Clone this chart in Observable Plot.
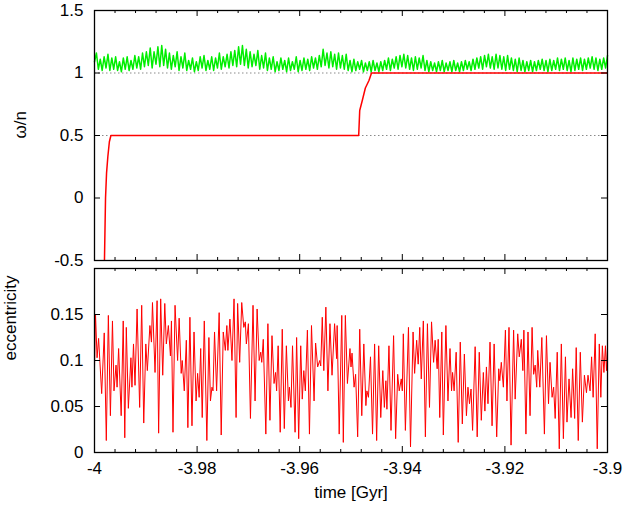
<!DOCTYPE html>
<html><head><meta charset="utf-8">
<script src="https://cdn.jsdelivr.net/npm/d3@7"></script>
<script src="https://cdn.jsdelivr.net/npm/@observablehq/plot@0.6"></script>
<style>
body{margin:0;background:#fff;}
#chart{width:623px;height:511px;}
#chart svg{display:block;}
</style></head><body><div id="chart"></div>
<script>
// ---- tick values and labels ----
const xMajorTicks = [-4, -3.98, -3.96, -3.94, -3.92, -3.9];
const xTickLabels = ["-4", "-3.98", "-3.96", "-3.94", "-3.92", "-3.9"];
const xMinorTicks = [-3.996, -3.992, -3.988, -3.984, -3.976, -3.972, -3.968, -3.964, -3.956, -3.952, -3.948, -3.944, -3.936, -3.932, -3.928, -3.924, -3.916, -3.912, -3.908, -3.904];
const omegaTicks = [-0.5, 0, 0.5, 1, 1.5];
const omegaTickLabels = ["-0.5", "0", "0.5", "1", "1.5"];
const eccTicks = [0, 0.05, 0.1, 0.15];
const eccTickLabels = ["0", "0.05", "0.1", "0.15"];
const resonanceLevels = [0.5, 1];

// ---- red spin/orbit ratio (omega/n) ----
const stepTime  = [-3.9981, -3.99785, -3.99765, -3.9974, -3.9971, -3.9968, -3.9485, -3.9483, -3.9478, -3.9472, -3.9465, -3.9460, -3.9];
const stepRatio = [-0.6, 0.0, 0.2, 0.33, 0.45, 0.5, 0.5, 0.7, 0.78, 0.88, 0.94, 1.0, 1.0];

// ---- green curve: troughs and peaks, sampled evenly over [-4, -3.9] ----
const greenTroughs = [
1.09,1.03,1.02,1.04,1.02,1.03,1.02,1.01,1.03,1.02,
1.03,1.04,1.03,1.05,1.06,1.04,1.07,1.05,1.06,1.04,
1.03,1.05,1.02,1.04,1.02,1.03,1.01,1.02,1.04,1.02,
1.03,1.02,1.04,1.03,1.05,1.04,1.06,1.05,1.07,1.06,
1.04,1.05,1.06,1.03,1.04,1.02,1.03,1.01,1.02,1.03,
1.01,1.02,1.03,1.01,1.02,1.03,1.02,1.04,1.03,1.05,
1.06,1.04,1.05,1.03,1.04,1.03,1.02,1.01,1.02,1.03,
1.01,1.02,1.01,1.02,1.01,1.02,1.03,1.02,1.04,1.03,
1.05,1.04,1.03,1.02,1.03,1.04,1.02,1.01,1.02,1.01,
1.02,1.01,1.02,1.01,1.02,1.01,1.02,1.03,1.02,1.03,
1.04,1.03,1.05,1.04,1.03,1.04,1.03,1.02,1.03,1.02,
1.01,1.02,1.01,1.02,1.01,1.02,1.03,1.02,1.01,1.02,
1.03,1.02,1.03,1.02,1.01,1.02,1.03,1.02,1.03,1.04,
1.03,1.02,1.03,1.04];
const greenPeaks = [
1.16,1.11,
1.13,1.15,1.12,1.13,1.09,1.12,1.13,1.10,
1.14,1.13,1.16,1.17,
1.20,1.17,1.21,1.22,1.19,
1.16,1.14,1.17,1.13,
1.16,1.10,1.12,1.09,1.13,1.14,1.10,1.13,1.12,
1.16,1.13,1.15,1.17,
1.18,1.21,1.22,1.19,
1.17,1.15,1.18,1.14,
1.16,1.12,1.13,1.09,1.12,1.10,1.12,1.09,1.13,1.10,
1.12,1.11,1.13,1.12,1.14,
1.19,1.16,1.17,
1.15,1.16,1.14,1.15,
1.10,1.11,1.09,1.10,1.08,1.09,1.10,1.08,1.09,1.10,
1.12,1.11,1.13,1.14,1.15,1.14,1.12,1.13,
1.12,1.14,1.10,1.09,1.08,1.09,1.10,1.08,
1.09,1.10,1.08,1.09,1.10,1.09,1.11,1.12,1.13,
1.14,1.15,1.13,1.15,1.14,1.13,1.14,1.12,
1.11,1.12,1.10,1.09,1.10,1.09,1.10,1.11,1.10,
1.11,1.10,1.12,1.11,1.12,1.10,1.12,1.11,
1.12,1.11,1.12,1.13,1.12,1.11,1.12,1.14];
const greenStart = -4, greenEnd = -3.9;

// ---- eccentricity: [time (Gyr), e] ----
const eccSamples = [
[-4.0000,0.092],[-3.9998,0.150],[-3.9995,0.103],[-3.9992,0.124],[-3.9986,0.064],[-3.9981,0.130],[-3.9977,0.013],[-3.9973,0.149],
[-3.9969,0.040],[-3.9965,0.143],[-3.9962,0.067],[-3.9958,0.095],[-3.9956,0.071],[-3.9953,0.113],[-3.9948,0.040],[-3.9944,0.143],
[-3.9941,0.016],[-3.9938,0.136],[-3.9934,0.048],[-3.9929,0.103],[-3.9927,0.071],[-3.9924,0.118],[-3.9921,0.073],[-3.9917,0.156],
[-3.9912,0.049],[-3.9908,0.160],[-3.9904,0.032],[-3.9900,0.118],[-3.9897,0.089],[-3.9892,0.138],[-3.9889,0.120],[-3.9887,0.163],
[-3.9882,0.087],[-3.9878,0.165],[-3.9875,0.021],[-3.9871,0.167],[-3.9867,0.084],[-3.9863,0.162],[-3.9860,0.118],[-3.9856,0.138],
[-3.9852,0.105],[-3.9850,0.143],[-3.9847,0.022],[-3.9843,0.160],[-3.9838,0.100],[-3.9835,0.146],[-3.9831,0.086],[-3.9829,0.100],
[-3.9825,0.067],[-3.9821,0.122],[-3.9818,0.027],[-3.9814,0.147],[-3.9810,0.029],[-3.9806,0.131],[-3.9802,0.056],[-3.9799,0.086],
[-3.9796,0.060],[-3.9793,0.113],[-3.9790,0.038],[-3.9786,0.143],[-3.9781,0.013],[-3.9777,0.125],[-3.9774,0.056],[-3.9771,0.071],
[-3.9769,0.067],[-3.9766,0.131],[-3.9762,0.067],[-3.9757,0.152],[-3.9753,0.019],[-3.9749,0.131],[-3.9745,0.111],[-3.9742,0.138],
[-3.9740,0.111],[-3.9736,0.145],[-3.9732,0.100],[-3.9728,0.167],[-3.9724,0.038],[-3.9721,0.162],[-3.9717,0.098],[-3.9713,0.163],
[-3.9709,0.136],[-3.9706,0.142],[-3.9704,0.118],[-3.9700,0.140],[-3.9696,0.037],[-3.9691,0.160],[-3.9687,0.056],[-3.9683,0.156],
[-3.9679,0.100],[-3.9676,0.109],[-3.9674,0.098],[-3.9671,0.123],[-3.9666,0.020],[-3.9662,0.140],[-3.9658,0.035],[-3.9654,0.127],
[-3.9650,0.075],[-3.9647,0.087],[-3.9645,0.067],[-3.9642,0.116],[-3.9638,0.022],[-3.9634,0.134],[-3.9630,0.026],[-3.9626,0.116],
[-3.9622,0.056],[-3.9620,0.071],[-3.9617,0.049],[-3.9614,0.116],[-3.9609,0.022],[-3.9606,0.125],[-3.9602,0.015],[-3.9598,0.116],
[-3.9595,0.058],[-3.9592,0.089],[-3.9589,0.067],[-3.9585,0.133],[-3.9581,0.020],[-3.9577,0.138],[-3.9572,0.056],[-3.9569,0.119],
[-3.9565,0.093],[-3.9561,0.100],[-3.9559,0.094],[-3.9556,0.147],[-3.9553,0.089],[-3.9549,0.158],[-3.9545,0.067],[-3.9541,0.140],
[-3.9537,0.084],[-3.9532,0.140],[-3.9528,0.102],[-3.9527,0.138],[-3.9523,0.020],[-3.9518,0.149],[-3.9515,0.011],[-3.9511,0.149],
[-3.9507,0.075],[-3.9502,0.113],[-3.9500,0.093],[-3.9498,0.108],[-3.9494,0.071],[-3.9491,0.085],[-3.9487,0.017],[-3.9483,0.134],
[-3.9479,0.040],[-3.9475,0.118],[-3.9471,0.051],[-3.9469,0.067],[-3.9466,0.060],[-3.9462,0.104],[-3.9458,0.020],[-3.9454,0.118],
[-3.9450,0.013],[-3.9446,0.116],[-3.9442,0.038],[-3.9438,0.089],[-3.9435,0.049],[-3.9432,0.078],[-3.9430,0.047],[-3.9426,0.116],
[-3.9422,0.024],[-3.9417,0.127],[-3.9413,0.015],[-3.9409,0.085],[-3.9406,0.067],[-3.9402,0.080],[-3.9400,0.067],[-3.9398,0.129],
[-3.9394,0.024],[-3.9388,0.136],[-3.9384,0.006],[-3.9379,0.131],[-3.9376,0.086],[-3.9372,0.122],[-3.9369,0.096],[-3.9366,0.136],
[-3.9363,0.080],[-3.9359,0.143],[-3.9355,0.017],[-3.9351,0.140],[-3.9347,0.049],[-3.9343,0.142],[-3.9339,0.098],[-3.9336,0.122],
[-3.9332,0.091],[-3.9330,0.123],[-3.9327,0.038],[-3.9323,0.131],[-3.9320,0.019],[-3.9315,0.138],[-3.9311,0.056],[-3.9307,0.113],
[-3.9304,0.067],[-3.9302,0.087],[-3.9299,0.067],[-3.9295,0.109],[-3.9291,0.011],[-3.9287,0.120],[-3.9283,0.031],[-3.9279,0.107],
[-3.9275,0.040],[-3.9272,0.071],[-3.9269,0.053],[-3.9266,0.069],[-3.9263,0.024],[-3.9258,0.115],[-3.9254,0.017],[-3.9250,0.109],
[-3.9246,0.035],[-3.9242,0.087],[-3.9239,0.045],[-3.9236,0.093],[-3.9233,0.053],[-3.9229,0.120],[-3.9225,0.029],[-3.9221,0.118],
[-3.9216,0.017],[-3.9212,0.091],[-3.9210,0.078],[-3.9207,0.098],[-3.9203,0.071],[-3.9199,0.133],[-3.9196,0.056],[-3.9192,0.136],
[-3.9188,0.008],[-3.9183,0.133],[-3.9180,0.058],[-3.9175,0.129],[-3.9172,0.104],[-3.9168,0.123],[-3.9165,0.089],[-3.9163,0.133],
[-3.9159,0.020],[-3.9155,0.131],[-3.9151,0.040],[-3.9147,0.136],[-3.9144,0.085],[-3.9141,0.095],[-3.9138,0.071],[-3.9136,0.111],
[-3.9132,0.071],[-3.9128,0.125],[-3.9123,0.020],[-3.9119,0.127],[-3.9115,0.053],[-3.9112,0.098],[-3.9108,0.060],[-3.9105,0.071],
[-3.9102,0.037],[-3.9098,0.109],[-3.9094,0.004],[-3.9090,0.118],[-3.9086,0.015],[-3.9082,0.104],[-3.9079,0.033],[-3.9075,0.080],
[-3.9071,0.038],[-3.9068,0.091],[-3.9064,0.037],[-3.9061,0.114],[-3.9057,0.013],[-3.9053,0.109],[-3.9049,0.033],[-3.9045,0.084],
[-3.9041,0.065],[-3.9038,0.084],[-3.9034,0.067],[-3.9031,0.104],[-3.9028,0.060],[-3.9024,0.129],[-3.9020,0.004],[-3.9016,0.118],
[-3.9013,0.060],[-3.9010,0.116],[-3.9007,0.087],[-3.9004,0.116],[-3.9002,0.089],[-3.9000,0.114]];

// ---- build tables ----
const stepRows = stepTime.map((t, i) => ({t, v: stepRatio[i]}));
const nG = greenPeaks.length * 2;
const greenRows = [];
greenTroughs.forEach((tv, i) => {
  greenRows.push({t: greenStart + (2 * i) * (greenEnd - greenStart) / (nG - 1), v: tv});
  greenRows.push({t: greenStart + (2 * i + 1) * (greenEnd - greenStart) / (nG - 1), v: greenPeaks[i]});
});
const eccRows = eccSamples.map(([t, v]) => ({t, v}));
const xLab = new Map(xMajorTicks.map((d, i) => [d, xTickLabels[i]]));
const oLab = new Map(omegaTicks.map((d, i) => [d, omegaTickLabels[i]]));
const eLab = new Map(eccTicks.map((d, i) => [d, eccTickLabels[i]]));

// ---- layout ----
const W = 623, ML = 94, MR = 16, innerW = W - ML - MR;
const topH = 264, topMT = 10, topMB = 4, topInner = topH - topMT - topMB;
const botH = 247, botMT = 4, botMB = 59, botInner = botH - botMT - botMB;
const FONT = "'Liberation Sans', Arial, Helvetica, sans-serif";
const style = {fontFamily: FONT, fontSize: "17px", background: "white", color: "black", overflow: "visible"};

function frameTicks(yTicks, inner) {
  return [
    Plot.ruleX(xMajorTicks, {insetTop: inner - 6, stroke: "black", strokeWidth: 1}),
    Plot.ruleX(xMajorTicks, {insetBottom: inner - 6, stroke: "black", strokeWidth: 1}),
    Plot.ruleX(xMinorTicks, {insetTop: inner - 3, stroke: "black", strokeWidth: 1}),
    Plot.ruleX(xMinorTicks, {insetBottom: inner - 3, stroke: "black", strokeWidth: 1}),
    Plot.ruleY(yTicks, {insetRight: innerW - 6, stroke: "black", strokeWidth: 1}),
    Plot.ruleY(yTicks, {insetLeft: innerW - 6, stroke: "black", strokeWidth: 1}),
    Plot.frame({stroke: "black", strokeWidth: 1.3})
  ];
}

const topPlot = Plot.plot({
  width: W, height: topH,
  marginLeft: ML, marginRight: MR, marginTop: topMT, marginBottom: topMB,
  style,
  x: {domain: [-4, -3.9], axis: null},
  y: {domain: [-0.5, 1.5]},
  marks: [
    Plot.ruleY(resonanceLevels, {stroke: "#8a8a8a", strokeWidth: 1, strokeDasharray: "1.5,2.5"}),
    Plot.line(greenRows, {x: "t", y: "v", stroke: "#00ee00", strokeWidth: 1.5}),
    Plot.line(stepRows, {x: "t", y: "v", stroke: "#ff0000", strokeWidth: 1.5, clip: true}),
    ...frameTicks(omegaTicks, topInner),
    Plot.axisY({ticks: omegaTicks, tickSize: 0, tickPadding: 11, tickFormat: d => oLab.get(d), label: null, fontSize: 17}),
    Plot.text(["ω/n"], {frameAnchor: "left", dx: -74, dy: 3, rotate: -90, fontSize: 17})
  ]
});

const botPlot = Plot.plot({
  width: W, height: botH,
  marginLeft: ML, marginRight: MR, marginTop: botMT, marginBottom: botMB,
  style,
  x: {domain: [-4, -3.9]},
  y: {domain: [0, 0.2]},
  marks: [
    Plot.line(eccRows, {x: "t", y: "v", stroke: "#ff0000", strokeWidth: 1}),
    ...frameTicks(eccTicks, botInner),
    Plot.axisY({ticks: eccTicks, tickSize: 0, tickPadding: 11, tickFormat: d => eLab.get(d), label: null, fontSize: 17}),
    Plot.axisX({ticks: xMajorTicks, tickSize: 0, tickPadding: 9, tickFormat: d => xLab.get(d), label: null, fontSize: 17}),
    Plot.text(["eccentricity"], {frameAnchor: "left", dx: -84, rotate: -90, fontSize: 17}),
    Plot.text(["time [Gyr]"], {frameAnchor: "bottom", dy: 45, fontSize: 17})
  ]
});

const root = document.getElementById("chart");
root.appendChild(topPlot);
root.appendChild(botPlot);
</script></body></html>
